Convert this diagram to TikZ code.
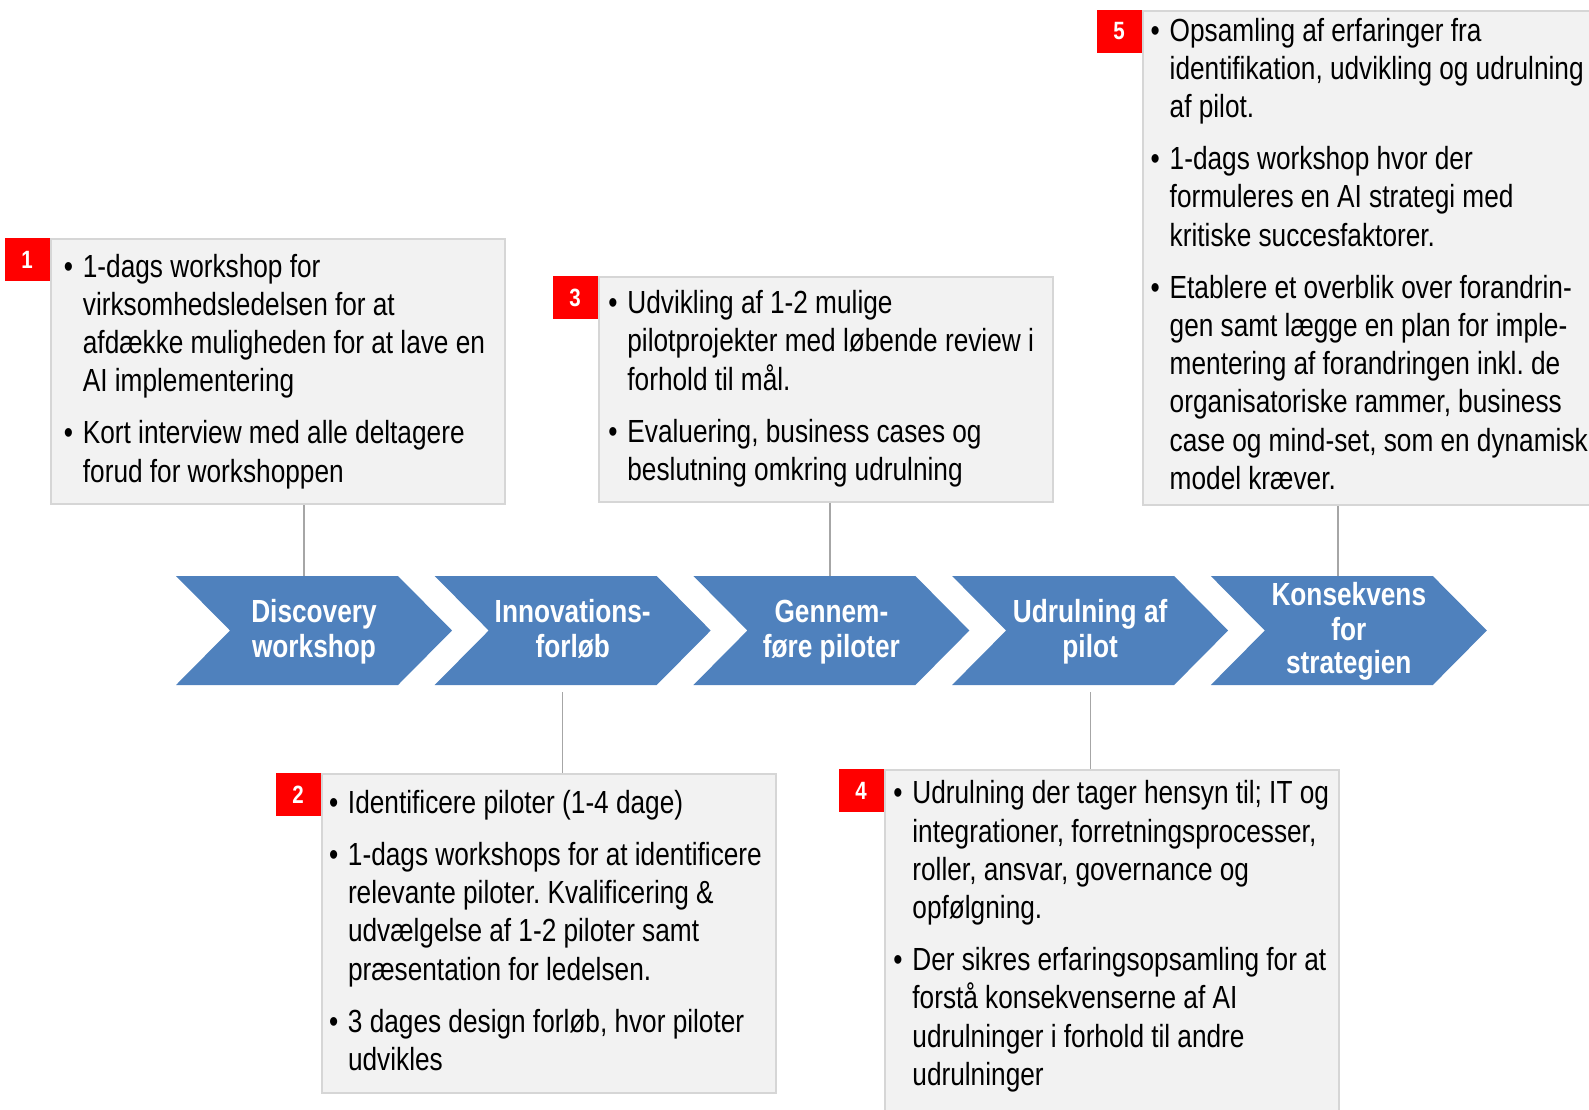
\documentclass[tikz,border=0pt]{standalone}
\usepackage{fontspec}
\setmainfont{Liberation Sans}[FakeStretch=0.82]
\frenchspacing
\definecolor{chevblue}{HTML}{4F81BD}
\definecolor{panelfill}{HTML}{F2F2F2}
\definecolor{panelline}{HTML}{D6D6D6}
\definecolor{badgered}{HTML}{FF0000}
\definecolor{linkgray}{HTML}{A6A6A6}
\newlength\bind
\setlength\bind{9.5pt}
% narrow body face with a fixed, narrow interword space
\newcommand\notesfont{\fontsize{16pt}{19.1pt}\selectfont\spaceskip=3.6pt\relax}
% one bulleted paragraph with a hanging indent; lines are broken by hand with \newline
\newcommand\bitem[1]{\par\hangindent=\bind\hangafter=1\noindent\makebox[\bind][l]{\strut\textbullet}#1\par}
\begin{document}
\begin{tikzpicture}[x=0.5pt,y=-0.5pt,
  panel/.style={draw=panelline, line width=1pt, fill=panelfill, anchor=north west, inner sep=0pt, minimum width=227pt},
  badge/.style={fill=badgered, anchor=north east, minimum width=22.5pt, minimum height=21.5pt, inner sep=0pt,
    text=white, font=\bfseries\fontsize{12.5pt}{13pt}\selectfont},
  notes/.style={anchor=north west, inner sep=0pt, text width=240pt,
    font=\notesfont, execute at begin node={\setlength{\parskip}{7pt}\spaceskip=3.6pt\relax}},
  chev/.style={fill=chevblue},
  chevtext/.style={text=white, align=center, inner sep=0pt, font=\bfseries\fontsize{16pt}{16.5pt}\selectfont},
  link/.style={draw=linkgray, line width=0.8pt}]
\useasboundingbox (0,0) rectangle (1589,1109);
\clip (0,0) rectangle (1589,1109);

% connector end points on the chevron row
\coordinate (k1) at (304,576);
\coordinate (k3) at (830,576);
\coordinate (k5) at (1338,576);
\coordinate (k2) at (562.5,692);
\coordinate (k4) at (1090.5,692);

% panels
\node[panel, minimum height=132.5pt] (b1) at (50,238) {};
\node[panel, minimum height=112.5pt] (b3) at (598,275.6) {};
\node[panel, minimum height=247.3pt] (b5) at (1142,9.5) {};
\node[panel, minimum height=159.3pt] (b2) at (321,773) {};
\node[panel, minimum height=180pt] (b4) at (884,769) {};

% connectors
\draw[link] (k1 |- b1.south) -- (k1);
\draw[link] (k3 |- b3.south) -- (k3);
\draw[link] (k5 |- b5.south) -- (k5);
\draw[link] (k2) -- (k2 |- b2.north);
\draw[link] (k4) -- (k4 |- b4.north);

% numbered badges
\node[badge] (n1) at (b1.north west) {1};
\node[badge] (n2) at (b2.north west) {2};
\node[badge] (n3) at (b3.north west) {3};
\node[badge] (n4) at (b4.north west) {4};
\node[badge] (n5) at (b5.north west) {5};

% panel texts
\node[notes] (t1) at (63.5,224.5) {%
  \bitem{1-dags workshop for\newline virksomhedsledelsen for at\newline afdække muligheden for at lave en\newline AI implementering}
  \bitem{Kort interview med alle deltagere\newline forud for workshoppen}};
\node[notes] (t3) at (608,261) {%
  \bitem{Udvikling af 1-2 mulige\newline pilotprojekter med løbende review i\newline forhold til mål.}
  \bitem{Evaluering, business cases og\newline beslutning omkring udrulning}};
\node[notes] (t5) at (1150.3,-11.5) {%
  \bitem{Opsamling af erfaringer fra\newline identifikation, udvikling og udrulning\newline af pilot.}
  \bitem{1-dags workshop hvor der\newline formuleres en AI strategi med\newline kritiske succesfaktorer.}
  \bitem{Etablere et overblik over forandrin-\newline gen samt lægge en plan for imple-\newline mentering af forandringen inkl. de\newline organisatoriske rammer, business\newline case og mind-set, som en dynamisk\newline model kræver.}};
\node[notes] (t2) at (328.6,760.6) {%
  \bitem{Identificere piloter (1-4 dage)}
  \bitem{1-dags workshops for at identificere\newline relevante piloter. Kvalificering \&\newline udvælgelse af 1-2 piloter samt\newline præsentation for ledelsen.}
  \bitem{3 dages design forløb, hvor piloter\newline udvikles}};
\node[notes] (t4) at (893,751.3) {%
  \bitem{Udrulning der tager hensyn til; IT og\newline integrationer, forretningsprocesser,\newline roller, ansvar, governance og\newline opfølgning.}
  \bitem{Der sikres erfaringsopsamling for at\newline forstå konsekvenserne af AI\newline udrulninger i forhold til andre\newline udrulninger}};

% process chevrons
\foreach \i/\nm/\lbl in {0/p1/{\strut Discovery\\workshop\strut}, 1/p2/{\strut Innovations-\\forløb\strut},
    2/p3/{\strut Gennem-\\føre piloter\strut}, 3/p4/{\strut Udrulning af\\pilot\strut},
    4/p5/{\strut Konsekvens\\for\\strategien\strut}} {
  \pgfmathsetmacro\lx{176+258.7*\i}
  \fill[chev] (\lx,576) -- (\lx+222,576) -- (\lx+276,630.5) -- (\lx+222,685)
    -- (\lx,685) -- (\lx+54,630.5) -- cycle;
  \node[chevtext] (\nm) at (\lx+138,633) {\lbl};
}
\end{tikzpicture}
\end{document}
